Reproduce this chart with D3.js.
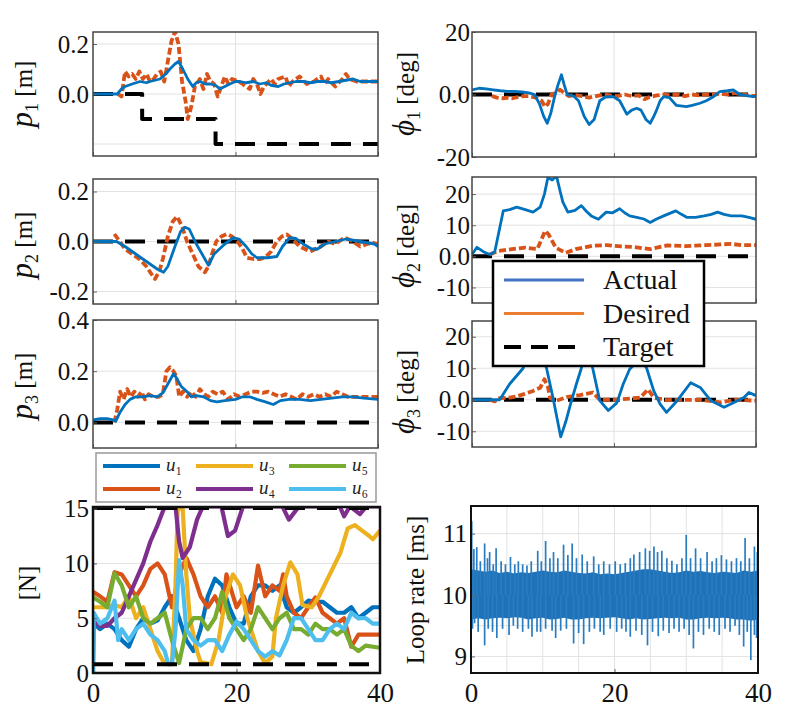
<!DOCTYPE html>
<html><head><meta charset="utf-8">
<script src="https://cdn.jsdelivr.net/npm/d3@7"></script>
<style>body{margin:0;background:#fff}svg{display:block}</style>
</head><body><svg id="c" width="800" height="718"></svg>
<script>
// ---------------- DATA ----------------
const xTickLabels = [0, 20, 40];
const seriesNames = ["Actual", "Desired", "Target"];
const forceNames = ["₁","₂","₃","₄","₅","₆"];

const p1Actual = [[0,0],[3.4,0],[4,0.02],[4.5,0.03],[5.5,0.04],[6.6,0.05],[7.5,0.045],[8,0.05],[9.4,0.06],[10.2,0.08],[10.8,0.1],[11.5,0.12],[12,0.13],[12.6,0.1],[13.3,0.06],[14,0.03],[14.5,0.045],[15,0.05],[15.8,0.04],[16.4,0.04],[17.2,0.035],[17.8,0.02],[18.5,0.03],[19.2,0.04],[20,0.05],[20.6,0.05],[21.5,0.045],[22.5,0.05],[23.4,0.04],[24.3,0.045],[25,0.035],[26,0.03],[26.8,0.04],[27.6,0.045],[28.5,0.05],[29.5,0.05],[30.5,0.045],[31.5,0.05],[32.5,0.05],[33.5,0.045],[34.5,0.05],[35.5,0.055],[36.5,0.06],[37.5,0.05],[38.5,0.05],[40,0.05]];
const p1Desired = [[3.5,0],[4,-0.01],[4.5,0.09],[5,0.07],[5.5,0.08],[6,0.06],[6.5,0.09],[7,0.06],[7.5,0.08],[8,0.05],[8.5,0.06],[9,0.08],[9.5,0.09],[10,0.05],[10.5,0.13],[11,0.21],[11.5,0.25],[12,0.2],[12.5,0.05],[13,-0.03],[13.3,-0.1],[13.8,-0.05],[14.3,0.03],[15,0.06],[15.5,0.02],[16,0.08],[16.5,0.05],[17,0.04],[17.5,-0.01],[18,0.03],[18.5,0.07],[19,0.04],[19.5,0.06],[20.5,0.05],[21,0.04],[22,0.02],[22.5,0.06],[23,0.04],[23.5,0.0],[24,0.03],[25,0.06],[25.5,0.04],[26,0.06],[27,0.07],[27.5,0.03],[28,0.05],[29,0.07],[30,0.04],[31,0.05],[32,0.07],[32.5,0.04],[33,0.06],[34,0.03],[35,0.06],[35.5,0.08],[36,0.06],[37,0.05],[38,0.05],[40,0.05]];
const p1Target = [[0,0],[6.9,-0.1],[17.2,-0.2],[40,-0.2]];

const p2Actual = [[0,0],[3.3,0],[4.5,-0.02],[6,-0.05],[7.5,-0.08],[9,-0.11],[9.9,-0.123],[10.5,-0.1],[11.5,-0.02],[12.3,0.04],[12.9,0.057],[13.5,0.05],[14.5,-0.01],[15.5,-0.06],[16.2,-0.095],[17,-0.05],[18.5,-0.01],[19.7,0.015],[20.5,0.01],[21.5,-0.02],[22.3,-0.05],[23,-0.065],[24.5,-0.065],[25.8,-0.06],[26.6,-0.02],[27.6,0.015],[28.5,0.012],[29.5,-0.01],[30.7,-0.03],[31.5,-0.03],[32.5,-0.01],[34,0.0],[35.5,0.01],[36.5,0.005],[37.5,0],[38.5,-0.005],[39.5,-0.01],[40,-0.02]];
const p2Desired = [[3,0.03],[3.5,0.01],[4.5,-0.03],[5.5,-0.05],[6.5,-0.07],[7.5,-0.1],[8.2,-0.13],[8.7,-0.15],[9.3,-0.12],[9.8,-0.07],[10.5,0.02],[11.2,0.08],[11.8,0.1],[12.5,0.06],[13.2,0.0],[14,-0.05],[14.8,-0.1],[15.7,-0.123],[16.2,-0.1],[16.7,-0.05],[17.3,0.0],[18,0.02],[18.8,0.03],[19.5,0.02],[20.3,0.0],[21,-0.03],[21.6,-0.065],[22.5,-0.07],[23.5,-0.07],[24.3,-0.06],[25,-0.04],[25.8,0.0],[26.5,0.02],[27.2,0.028],[28,0.01],[29,-0.02],[30.5,-0.04],[31.2,-0.03],[32,-0.02],[33,0.0],[34,-0.01],[35,0.01],[35.6,0.012],[36.5,0],[37.5,-0.02],[38.5,-0.01],[39.3,-0.005],[40,-0.012]];
const p2Target = [[0,0],[40,0]];

const p3Actual = [[0,0.01],[1,0.015],[2,0.015],[2.8,0.01],[3.2,0.005],[3.8,0.04],[4.5,0.07],[5.2,0.09],[6,0.1],[7,0.1],[8,0.105],[9,0.1],[9.8,0.115],[10.5,0.15],[11.3,0.19],[11.8,0.17],[12.4,0.14],[13.2,0.12],[13.8,0.1],[14.5,0.105],[15.5,0.1],[16.5,0.085],[17.4,0.08],[18.5,0.085],[20,0.09],[21,0.1],[22,0.1],[23,0.09],[24.2,0.08],[25.3,0.07],[26.3,0.085],[27.5,0.09],[29,0.09],[30.5,0.085],[32,0.09],[33.5,0.095],[35,0.1],[36.5,0.1],[38,0.095],[40,0.09]];
const p3Desired = [[3,0],[3.4,0.05],[3.8,0.12],[4.3,0.09],[4.8,0.13],[5.3,0.1],[5.8,0.12],[6.3,0.1],[6.8,0.12],[7.3,0.09],[7.8,0.11],[8.5,0.1],[9.2,0.1],[9.8,0.11],[10.3,0.2],[10.8,0.215],[11.3,0.2],[11.7,0.18],[12.1,0.1],[12.6,0.12],[13.2,0.1],[13.8,0.12],[14.4,0.1],[15,0.13],[15.6,0.11],[16.2,0.1],[16.8,0.12],[17.5,0.11],[18.2,0.12],[19,0.09],[19.8,0.11],[20.6,0.1],[21.4,0.11],[22.2,0.12],[23,0.12],[23.8,0.115],[24.6,0.12],[25.4,0.11],[26.2,0.1],[27,0.11],[27.8,0.1],[28.6,0.09],[29.4,0.11],[30.2,0.1],[31,0.11],[31.8,0.1],[32.6,0.11],[33.4,0.1],[34.2,0.12],[35,0.11],[35.8,0.1],[36.6,0.1],[37.4,0.1],[38.2,0.1],[39,0.1],[40,0.1]];
const p3Target = [[0,0],[40,0]];

const phi1Actual = [[0,1.5],[1,2],[2,1.8],[3,1.5],[4,1.2],[5,1],[6,1],[7,0.8],[8,0.5],[8.8,0],[9.5,-3],[10.1,-7],[10.6,-9.2],[11.1,-6],[11.6,-1],[12.1,3],[12.6,6.3],[13,3],[13.4,0],[14.3,-0.5],[15,-2],[15.8,-7],[16.5,-9.6],[17.2,-8],[18,-2],[18.8,-0.8],[19.9,-0.7],[20.8,-2],[21.8,-6.3],[22.5,-5],[23.2,-4.4],[23.8,-5],[24.5,-8],[25.1,-9.2],[25.6,-7],[26,-5],[26.5,-2],[27,-0.7],[27.8,-1],[28.8,-3.5],[30.2,-3.9],[31,-3.5],[32.1,-2.8],[33,-2],[34,-0.7],[34.9,0.9],[36,1.2],[36.8,1.5],[37.7,0],[38.5,-0.3],[39.6,-0.7],[40,-0.5]];
const phi1Desired = [[2.8,-0.5],[3.5,-1],[4.3,-1.2],[5,-1],[5.7,-1.2],[6.5,-0.8],[7.3,-0.5],[8,-0.5],[9,-1],[9.8,-2],[10.3,-4],[10.7,-3],[11.2,0],[11.8,0.5],[12.4,1.5],[13,0.5],[13.6,-0.5],[14.5,-0.2],[15.5,-0.5],[16.5,-1],[17.5,-0.5],[18.5,0],[19.5,-0.3],[20.5,-0.5],[21.5,0],[22.5,-0.5],[23.5,-0.3],[24.3,-1.5],[25,-0.8],[26,-0.3],[27,0],[28,-0.3],[29,0],[30,-0.5],[31,0],[32,-0.3],[33,0],[34,0],[35,0.3],[36,0],[37,0.5],[38,0],[39,-0.3],[40,-0.5]];
const phi1Target = [[0,0],[40,0]];

const phi2Actual = [[0,0.6],[0.7,2.9],[1.6,1.5],[2.5,0.6],[3.2,1.4],[3.8,8],[4.4,14.6],[5.3,15],[6.3,15.8],[7.5,15],[8.6,14.2],[9.6,15.8],[10.2,20],[10.7,25.4],[11.3,24.5],[11.9,25.9],[12.4,21],[12.8,17.4],[13.5,14.2],[14.5,14.8],[15.4,16.3],[16.1,14.5],[16.8,13],[17.8,11.9],[18.9,14.2],[19.8,14],[20.8,15.3],[21.5,14],[22.2,13],[23.2,12.5],[24.2,12],[25.1,10.9],[26,12],[27,13],[28.7,14.6],[29.5,13.5],[30.3,12.5],[31.5,12.5],[32.7,13],[33.7,13.5],[34.6,14.2],[35.5,13.5],[36.5,13],[38,13],[39,12.5],[40,11.9]];
const phi2Desired = [[2.5,0.6],[3.7,1.7],[5.6,2.3],[7.5,2.8],[9.2,2.3],[10.3,8.2],[10.8,7],[11.8,2.8],[13.2,1.1],[14.6,2.3],[17,3.4],[19,3.6],[21,3.2],[22.8,3],[25.1,2.3],[27.5,3.5],[30,3.3],[33,3.6],[36.5,4],[38,3.6],[40,3.6]];
const phi2Target = [[0,0],[40,0]];

const phi3Actual = [[0,0],[3.9,0],[5.3,5],[7.2,10],[8,16],[8.8,19],[9.6,16],[10.5,10],[11.4,0.7],[12.5,-11.8],[13.2,-7],[13.8,-2],[14.7,5],[15.4,10],[16.2,17],[17,10],[18,-0.3],[19.2,-3.4],[20.4,-1],[21.3,5],[22.2,9.7],[23.2,12],[24,12],[24.6,10],[25.6,2.8],[26.5,-1.4],[27.4,-4],[28.9,-0.3],[30.8,5.4],[32.2,3.8],[33.6,-0.2],[35.5,-2.4],[36.9,-0.9],[38.3,0.7],[39,2.3],[40,1.3]];
const phi3Desired = [[2.5,0],[3.2,-0.5],[3.9,0.5],[5.3,0.7],[6.2,1],[7.2,1.7],[8.6,2.8],[9.6,3.8],[10.2,6.5],[10.7,4],[11,0.5],[11.9,-0.3],[13.3,0.8],[15.2,1.5],[17,2.3],[18,0],[20.4,0],[23.7,0.7],[24.8,3.3],[25.6,0.7],[27.4,-0.1],[32,0],[35,-0.8],[37,0],[40,-0.3]];
const phi3Target = [[0,0],[40,0]];

const u1 = [[0,0],[0.1,4.5],[1,4],[2,4.5],[3,4],[4,3],[5,2.4],[6,4],[7,5],[8,4.5],[9,4.8],[10,6],[11,7],[12,5],[13,3],[14,2],[15,4],[16,7],[17,8.6],[18,8],[19,6],[20,4.5],[21,4.5],[22,7],[23,8],[24,8],[25,7.5],[26,8],[27,6],[28,5.5],[29,6],[30,6.6],[31,6.5],[32,6.5],[33,6],[34,5.5],[35,5.5],[36,6],[37,5],[38,5.5],[39,6],[40,6]];
const u2 = [[0,7.4],[1,7],[2,6.5],[3,9.2],[4,9],[5,8],[6,7],[7,8],[8,9.5],[9,10],[10,9],[11,6],[12,9],[13,10.5],[14,9],[15,7],[16,6],[17,7],[18,5.5],[18.6,9],[19.3,7.5],[20,6],[21,7],[22,5.5],[23,9.8],[24,7],[25,8],[26,7.5],[26.5,9],[27,7],[28,5.5],[29,5],[30,6],[31,6.9],[32,5.5],[33,5],[34,4.5],[35,5],[36,2.4],[37,3.5],[38,3.5],[40,3.5]];
const u3 = [[0,6],[1,6],[2,6],[3,6.2],[4,6],[5,7],[6,5],[7,6],[8,4],[9,2],[10,0.8],[11,0.8],[11.5,8],[11.8,15],[12.5,15],[13,9],[13.5,5],[14.5,2],[15,1],[16.5,0.8],[17.5,3],[18.5,7],[19.5,9],[20.5,8],[21.5,5],[23,2],[24,0.9],[25,1.5],[25.5,5],[26.5,8],[27.5,10.1],[28.5,9],[29.2,6.2],[30.5,6],[31.5,7],[33,9],[34.5,11],[35.5,13.2],[36.5,13.5],[37.5,13],[38.5,12.5],[39,12.2],[40,13]];
const u4 = [[0,4.8],[1,4.3],[2,4.3],[3,5],[4,5.5],[5,7],[6,8.5],[7,10],[8,12],[9,13.5],[10,15.2],[11.5,15.2],[12,12],[12.5,10.5],[13.5,11.5],[14.5,14],[15.3,15.2],[17.9,15.2],[18.8,12.5],[19.8,13],[20.9,15.2],[26.4,15.2],[27.3,14],[28.7,15.2],[34.4,15.2],[35,14.3],[35.8,15.2],[37.2,14.5],[38.1,15.2],[40,15.2]];
const u5 = [[0,6.9],[1,6.5],[2,6],[3,9.1],[4,8],[5,6],[6,7],[7,5],[8,4.5],[9,5],[10,5.5],[11,3],[12,0.9],[13,4],[14,5],[15,5],[16,4],[17,5],[18,7.4],[19,5],[20,4],[21,3],[22,4],[23,6],[24,5],[25,4],[26,5],[27,5.5],[28,4],[29,4],[30,3.5],[31,4.5],[32,4],[33,4],[34,3.5],[35,4],[36,2.5],[37,2],[38,2.5],[40,2.3]];
const u6 = [[0,0],[0.1,5.5],[1,4.5],[2,5],[3,6.6],[3.5,3],[4,4],[5,3],[6,4],[7,4.5],[8,3.5],[9,3],[10,2],[10.5,0.8],[11,0.8],[11.5,4],[12,10.3],[12.5,8],[13,4],[14,3],[15,2.5],[16,3],[17,3],[18,2],[19,3.5],[20,4.7],[21,4],[22,3],[23,2],[24,1.5],[25,2],[26,1.6],[27,3],[28,5],[29,5],[30,4],[31,3],[32,3],[33,4],[34,4.5],[35,4],[36,5.5],[37,5],[38,5],[39,4.5],[40,4.5]];
const uLimits = [15.05, 0.8];

const loopBandT  = [0,1,2,3,4,5,6,7,8,9,10,11,12,13,14,15,16,17,18,19,20,21,22,23,24,25,26,27,28,29,30,31,32,33,34,35,36,37,38,39,40];
const loopBandHi = [10.42,10.4,10.38,10.4,10.36,10.38,10.35,10.37,10.36,10.38,10.4,10.38,10.37,10.4,10.38,10.36,10.35,10.37,10.34,10.35,10.34,10.36,10.38,10.4,10.42,10.42,10.4,10.38,10.36,10.37,10.4,10.38,10.39,10.37,10.36,10.38,10.37,10.36,10.4,10.38,10.4];
const loopBandLo = [9.6,9.62,9.6,9.62,9.63,9.62,9.64,9.63,9.6,9.62,9.63,9.6,9.61,9.63,9.6,9.6,9.62,9.63,9.62,9.63,9.64,9.62,9.6,9.62,9.6,9.61,9.62,9.63,9.62,9.63,9.6,9.6,9.62,9.63,9.62,9.63,9.62,9.6,9.6,9.58,9.6];
const loopSpikesUp = [[0.1,11.2],[0.4,10.75],[0.8,10.78],[1.3,10.55],[1.9,10.84],[2.3,10.6],[2.6,10.7],[3.1,10.5],[3.5,10.76],[4.2,10.55],[4.8,10.5],[5.5,10.62],[6.1,10.5],[6.6,10.55],[7.2,10.5],[7.8,10.48],[8.4,10.55],[9.3,10.72],[9.8,10.55],[10.4,10.88],[11.0,10.6],[11.5,10.7],[12.1,10.6],[12.9,10.82],[13.5,10.65],[14.1,10.84],[14.7,10.6],[15.5,10.66],[16.2,10.55],[17.1,10.63],[17.8,10.5],[18.5,10.55],[19.3,10.5],[20.1,10.55],[20.8,10.5],[21.5,10.52],[22.2,10.6],[22.7,10.66],[23.5,10.7],[24.3,10.76],[24.9,10.72],[25.5,10.79],[26.0,10.7],[26.6,10.72],[27.3,10.6],[28.0,10.56],[28.7,10.5],[29.4,10.6],[30.0,10.98],[30.6,10.6],[31.3,10.76],[32.0,10.6],[32.9,10.7],[33.6,10.55],[34.2,10.6],[34.9,10.65],[35.6,10.58],[36.3,10.55],[37.0,10.6],[37.6,10.55],[38.2,10.93],[38.8,10.6],[39.5,10.79],[39.9,10.7]];
const loopSpikesDown = [[0.2,9.45],[0.5,9.54],[1.0,9.4],[1.9,9.18],[2.4,9.45],[3.0,9.4],[3.6,9.3],[4.4,9.45],[5.3,9.35],[5.9,9.5],[6.5,9.45],[7.2,9.4],[8.0,9.45],[8.5,9.32],[9.2,9.4],[9.7,9.4],[10.4,9.45],[11.3,9.42],[11.8,9.3],[12.5,9.42],[13.3,9.45],[14.3,9.21],[15.0,9.38],[15.7,9.2],[16.5,9.4],[17.2,9.45],[18.0,9.4],[18.5,9.35],[19.4,9.45],[20.3,9.4],[21.0,9.45],[21.6,9.4],[22.2,9.32],[23.0,9.42],[23.8,9.35],[24.6,9.18],[25.3,9.4],[26.1,9.33],[26.8,9.42],[27.6,9.38],[28.3,9.45],[29.0,9.4],[29.7,9.45],[30.4,9.35],[31.0,9.13],[31.7,9.4],[32.4,9.35],[33.2,9.45],[33.9,9.4],[34.6,9.35],[35.4,9.45],[36.1,9.4],[36.8,9.5],[37.4,9.35],[38.0,9.16],[38.5,9.4],[39.0,8.94],[39.5,9.35],[39.8,9.3]];

// ---------------- DRAWING ----------------
const FONT = '"Liberation Serif","Times New Roman",serif';
const C_ACT = '#0072BD', C_DES = '#D95319';
const U_COLORS = ['#0072BD','#D95319','#EDB120','#7E2F8E','#77AC30','#4DBEEE'];
const svg = d3.select('#c');
let clipN = 0;

function panel(o){
  const x = d3.scaleLinear().domain([0,40]).range([o.x0,o.x1]);
  const y = d3.scaleLinear().domain(o.yDom).range([o.y1,o.y0]);
  const g = svg.append('g');
  g.append('rect').attr('x',o.x0).attr('y',o.y0).attr('width',o.x1-o.x0).attr('height',o.y1-o.y0).attr('fill','#fff');
  g.append('g').selectAll('line').data(o.yGrid).join('line')
    .attr('x1',o.x0).attr('x2',o.x1).attr('y1',d=>y(d)).attr('y2',d=>y(d))
    .attr('stroke','#e2e2e2').attr('stroke-width',1);
  g.append('g').selectAll('line').data(o.xGrid).join('line')
    .attr('y1',o.y0).attr('y2',o.y1).attr('x1',d=>x(d)).attr('x2',d=>x(d))
    .attr('stroke','#e2e2e2').attr('stroke-width',1);
  const id = 'clip' + (++clipN);
  svg.append('clipPath').attr('id',id).append('rect')
    .attr('x',o.x0).attr('y',o.y0).attr('width',o.x1-o.x0).attr('height',o.y1-o.y0);
  const plot = g.append('g').attr('clip-path',`url(#${id})`);
  return {x,y,g,plot,o};
}
function finish(P){
  const {x,y,g,o} = P;
  const ay = d3.axisLeft(y).tickValues(o.yTicks).tickFormat((d,i)=>o.yLabels[i])
    .tickSizeInner(-4).tickSizeOuter(0).tickPadding(o.pad==null?4:o.pad);
  const ga = g.append('g').attr('transform',`translate(${o.x0},0)`).call(ay);
  ga.select('.domain').remove();
  ga.attr('font-size',o.fs||25).attr('font-family',FONT);
  ga.selectAll('text').attr('fill','#111');
  ga.selectAll('line').attr('stroke','#666');
  const ax = d3.axisBottom(x).tickValues(xTickLabels).tickSizeInner(-4).tickSizeOuter(0)
    .tickPadding(10).tickFormat(o.xLabels ? d3.format('d') : () => '');
  const gx = g.append('g').attr('transform',`translate(0,${o.y1})`).call(ax);
  gx.select('.domain').remove();
  gx.attr('font-size',27).attr('font-family',FONT);
  gx.selectAll('text').attr('fill','#111');
  gx.selectAll('line').attr('stroke','#666');
  g.append('rect').attr('x',o.x0).attr('y',o.y0).attr('width',o.x1-o.x0).attr('height',o.y1-o.y0)
    .attr('fill','none').attr('stroke',o.frame||'#444').attr('stroke-width',o.fw||1.5);
}
function line(P, data, color, width, dash, curve){
  const gen = d3.line().x(d=>P.x(d[0])).y(d=>P.y(d[1])).curve(curve||d3.curveLinear);
  P.plot.append('path').attr('d',gen(data)).attr('fill','none').attr('stroke',color)
    .attr('stroke-width',width).attr('stroke-linejoin','round')
    .attr('stroke-dasharray',dash||null);
}
function ylabel(x, y, sym, sub, unit, symSize){
  const t = svg.append('text').attr('transform',`translate(${x},${y}) rotate(-90)`)
    .attr('text-anchor','middle').attr('font-family',FONT).attr('font-size',25).attr('fill','#111');
  if (sym){
    t.append('tspan').attr('font-style','italic').attr('font-size',symSize||31).text(sym);
    t.append('tspan').attr('font-size',18).attr('dy',6).text(sub);
    t.append('tspan').attr('dy',-6).text(' ' + unit);
  } else t.text(unit);
}
function posPanel(o, act, des, tgt, step){
  const P = panel(o);
  line(P, tgt, '#000', 4, '20,12', step ? d3.curveStepAfter : null);
  line(P, des, C_DES, 3.8, '7,3');
  line(P, act, C_ACT, 2.8);
  finish(P);
  return P;
}

const L = {x0:93, x1:378}, R = {x0:472, x1:756};
posPanel({...L, y0:32, y1:156, yDom:[-0.248,0.248], yTicks:[0.2,0], yLabels:['0.2','0.0'], yGrid:[-0.2,0,0.2], xGrid:[20]}, p1Actual, p1Desired, p1Target, true);
posPanel({...L, y0:179, y1:304, yDom:[-0.25,0.25], yTicks:[0.2,0,-0.2], yLabels:['0.2','0.0','-0.2'], yGrid:[-0.2,0,0.2], xGrid:[20]}, p2Actual, p2Desired, p2Target);
posPanel({...L, y0:320, y1:448, yDom:[-0.1,0.4], yTicks:[0.4,0.2,0], yLabels:['0.4','0.2','0.0'], yGrid:[0,0.2,0.4], xGrid:[20]}, p3Actual, p3Desired, p3Target);
posPanel({...R, y0:32, y1:157, yDom:[-20,20], yTicks:[20,0,-20], yLabels:['20','0.0','-20'], yGrid:[-20,0,20], xGrid:[20], pad:2}, phi1Actual, phi1Desired, phi1Target);
posPanel({...R, y0:177, y1:303, yDom:[-15,25.5], yTicks:[20,10,0,-10], yLabels:['20','10','0.0','-10'], yGrid:[-10,0,10,20], xGrid:[20], pad:2}, phi2Actual, phi2Desired, phi2Target);
posPanel({...R, y0:321, y1:447, yDom:[-15,25], yTicks:[20,10,0,-10], yLabels:['20','10','0.0','-10'], yGrid:[-10,0,10,20], xGrid:[20], pad:2}, phi3Actual, phi3Desired, phi3Target);

// force panel
const F = panel({x0:93, x1:380, y0:507, y1:673, yDom:[0,15.15], yTicks:[15,10,5,0], yLabels:['15','10','5','0'], yGrid:[5,10], xGrid:[20], xLabels:true, frame:'#111', fw:2.5});
[u1,u2,u3,u4,u5,u6].forEach((u,i)=>line(F, u, U_COLORS[i], 4.2));
uLimits.forEach(v=>line(F, [[0,v],[38.5,v]], '#000', 4, '20,12'));
finish(F);

// loop rate panel
const LR = panel({x0:471, x1:758, y0:506, y1:673, yDom:[8.73,11.45], yTicks:[11,10,9], yLabels:['11','10','9'], yGrid:[9,9.5,10,10.5,11], xGrid:[5,10,15,20,25,30,35], xLabels:true, frame:'#111', fw:2});
const band = loopBandT.map((t,i)=>[t, loopBandHi[i], loopBandLo[i]]);
LR.plot.append('path').attr('d', d3.area().x(d=>LR.x(d[0])).y0(d=>LR.y(d[2])).y1(d=>LR.y(d[1]))(band)).attr('fill','#1f72b8');
LR.plot.append('g').selectAll('line').data(loopSpikesUp.concat(loopSpikesDown)).join('line')
  .attr('x1',d=>LR.x(d[0])).attr('x2',d=>LR.x(d[0])).attr('y1',LR.y(10)).attr('y2',d=>LR.y(d[1]))
  .attr('stroke','#2a7cc0').attr('stroke-width',1.7);
finish(LR);

// y labels
ylabel(32, 94, 'p', '1', '[m]');
ylabel(32, 245, 'p', '2', '[m]');
ylabel(32, 386, 'p', '3', '[m]');
ylabel(414, 94, 'ϕ', '1', '[deg]');
ylabel(414, 246, 'ϕ', '2', '[deg]');
ylabel(414, 392, 'ϕ', '3', '[deg]');
ylabel(36, 583, null, null, '[N]');
ylabel(424, 590, null, null, 'Loop rate [ms]');

// legend (Actual / Desired / Target)
const lg = svg.append('g');
lg.append('rect').attr('x',493).attr('y',261).attr('width',211).attr('height',105).attr('fill','#fff').attr('stroke','#000').attr('stroke-width',2.5);
const legendStyles = [{c:'#4472C4',d:null},{c:'#ED7D31',d:null},{c:'#000',d:'17,10'}];
seriesNames.forEach((n,i)=>{
  const yy = 280 + i*33.5;
  lg.append('line').attr('x1',504).attr('x2',584).attr('y1',yy).attr('y2',yy)
    .attr('stroke',legendStyles[i].c).attr('stroke-width',i===2?4:3).attr('stroke-dasharray',legendStyles[i].d);
  lg.append('text').attr('x',603).attr('y',yy+9).attr('font-family',FONT).attr('font-size',28).attr('fill','#111').text(n);
});

// force legend
const fl = svg.append('g');
fl.append('rect').attr('x',96).attr('y',453).attr('width',280).attr('height',49).attr('fill','#fff').attr('stroke','#999').attr('stroke-width',1.5);
const cols = [103,196,289];
forceNames.forEach((n,i)=>{
  const cx = cols[Math.floor(i/2)], yy = i%2===0 ? 466 : 489;
  fl.append('line').attr('x1',cx).attr('x2',cx+57).attr('y1',yy).attr('y2',yy).attr('stroke',U_COLORS[i]).attr('stroke-width',4);
  const t = fl.append('text').attr('x',cx+63).attr('y',yy+5).attr('font-family',FONT).attr('font-size',19).attr('fill','#222');
  t.append('tspan').attr('font-style','italic').text('u');
  t.append('tspan').text(n);
});
</script></body></html>
